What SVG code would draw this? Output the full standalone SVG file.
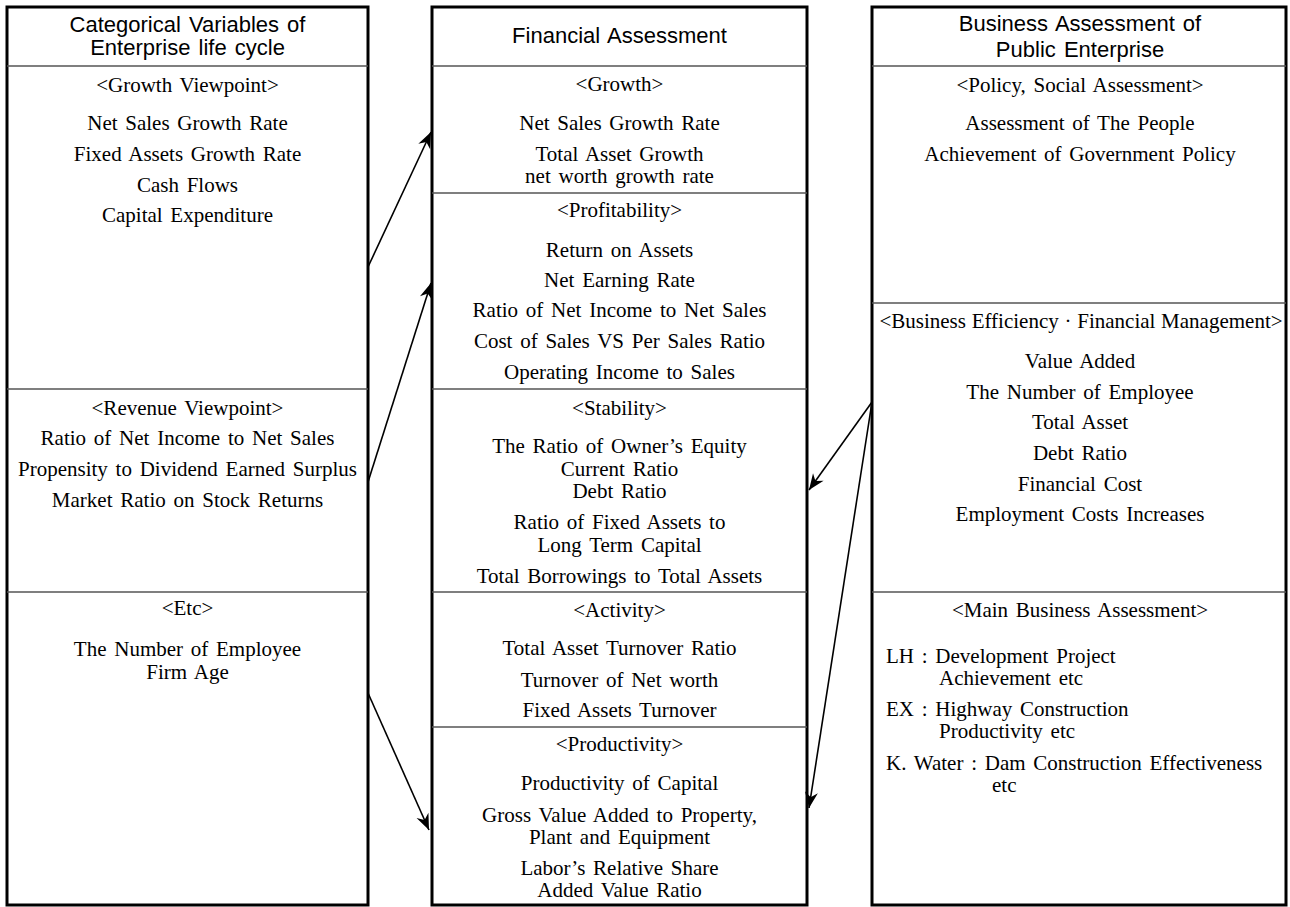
<svg xmlns="http://www.w3.org/2000/svg" width="1290" height="907" viewBox="0 0 1290 907">
<style>
.box{fill:#fff;stroke:#000;stroke-width:3}
.div{stroke:#555;stroke-width:1.5}
.hd{font-family:"Liberation Sans",Arial,sans-serif;font-size:22px;fill:#000;text-anchor:middle;word-spacing:2px}
.t{font-family:"Liberation Serif","Times New Roman",serif;font-size:21px;fill:#000;text-anchor:middle;word-spacing:2.5px}
.l{text-anchor:start}
.conn{stroke:#000;stroke-width:1.6;fill:none;marker-end:url(#arr)}
</style>
<defs>
<marker id="arr" viewBox="-17 -8 18 16" refX="0" refY="0" markerWidth="18" markerHeight="16" markerUnits="userSpaceOnUse" orient="auto">
<path d="M0,0 L-16,-6.5 L-11,0 L-16,6.5 Z" fill="#000"/>
</marker>
</defs>
<rect width="1290" height="907" fill="#fff"/>

<g id="left">
<rect class="box" x="7" y="7" width="361" height="898"/>
<line class="div" x1="7" y1="66" x2="368" y2="66"/>
<line class="div" x1="7" y1="389" x2="368" y2="389"/>
<line class="div" x1="7" y1="592" x2="368" y2="592"/>
<text class="hd" x="187.5" y="32">Categorical Variables of</text>
<text class="hd" x="187.5" y="55">Enterprise life cycle</text>
<text class="t" x="187.5" y="92">&lt;Growth Viewpoint&gt;</text>
<text class="t" x="187.5" y="130">Net Sales Growth Rate</text>
<text class="t" x="187.5" y="161">Fixed Assets Growth Rate</text>
<text class="t" x="187.5" y="192">Cash Flows</text>
<text class="t" x="187.5" y="222">Capital Expenditure</text>
<text class="t" x="187.5" y="415">&lt;Revenue Viewpoint&gt;</text>
<text class="t" x="187.5" y="445">Ratio of Net Income to Net Sales</text>
<text class="t" x="187.5" y="476">Propensity to Dividend Earned Surplus</text>
<text class="t" x="187.5" y="507">Market Ratio on Stock Returns</text>
<text class="t" x="187.5" y="615">&lt;Etc&gt;</text>
<text class="t" x="187.5" y="656">The Number of Employee</text>
<text class="t" x="187.5" y="679">Firm Age</text>
</g>

<g id="middle">
<rect class="box" x="432" y="7" width="375" height="898"/>
<line class="div" x1="432" y1="66" x2="807" y2="66"/>
<line class="div" x1="432" y1="193" x2="807" y2="193"/>
<line class="div" x1="432" y1="389" x2="807" y2="389"/>
<line class="div" x1="432" y1="592" x2="807" y2="592"/>
<line class="div" x1="432" y1="727" x2="807" y2="727"/>
<text class="hd" x="619.5" y="43">Financial Assessment</text>
<text class="t" x="619.5" y="91">&lt;Growth&gt;</text>
<text class="t" x="619.5" y="130">Net Sales Growth Rate</text>
<text class="t" x="619.5" y="161">Total Asset Growth</text>
<text class="t" x="619.5" y="183">net worth growth rate</text>
<text class="t" x="619.5" y="217">&lt;Profitability&gt;</text>
<text class="t" x="619.5" y="257">Return on Assets</text>
<text class="t" x="619.5" y="287">Net Earning Rate</text>
<text class="t" x="619.5" y="317">Ratio of Net Income to Net Sales</text>
<text class="t" x="619.5" y="348">Cost of Sales VS Per Sales Ratio</text>
<text class="t" x="619.5" y="379">Operating Income to Sales</text>
<text class="t" x="619.5" y="415">&lt;Stability&gt;</text>
<text class="t" x="619.5" y="453">The Ratio of Owner’s Equity</text>
<text class="t" x="619.5" y="476">Current Ratio</text>
<text class="t" x="619.5" y="498">Debt Ratio</text>
<text class="t" x="619.5" y="529">Ratio of Fixed Assets to</text>
<text class="t" x="619.5" y="552">Long Term Capital</text>
<text class="t" x="619.5" y="583">Total Borrowings to Total Assets</text>
<text class="t" x="619.5" y="617">&lt;Activity&gt;</text>
<text class="t" x="619.5" y="655">Total Asset Turnover Ratio</text>
<text class="t" x="619.5" y="687">Turnover of Net worth</text>
<text class="t" x="619.5" y="717">Fixed Assets Turnover</text>
<text class="t" x="619.5" y="751">&lt;Productivity&gt;</text>
<text class="t" x="619.5" y="790">Productivity of Capital</text>
<text class="t" x="619.5" y="822">Gross Value Added to Property,</text>
<text class="t" x="619.5" y="844">Plant and Equipment</text>
<text class="t" x="619.5" y="875">Labor’s Relative Share</text>
<text class="t" x="619.5" y="897">Added Value Ratio</text>
</g>

<g id="right">
<rect class="box" x="872" y="7" width="414" height="898"/>
<line class="div" x1="872" y1="66" x2="1286" y2="66"/>
<line class="div" x1="872" y1="303" x2="1286" y2="303"/>
<line class="div" x1="872" y1="592" x2="1286" y2="592"/>
<text class="hd" x="1080" y="31">Business Assessment of</text>
<text class="hd" x="1080" y="57">Public Enterprise</text>
<text class="t" x="1080" y="92">&lt;Policy, Social Assessment&gt;</text>
<text class="t" x="1080" y="130">Assessment of The People</text>
<text class="t" x="1080" y="161">Achievement of Government Policy</text>
<text class="t" x="1081" y="328" style="word-spacing:0.5px">&lt;Business Efficiency · Financial Management&gt;</text>
<text class="t" x="1080" y="368">Value Added</text>
<text class="t" x="1080" y="399">The Number of Employee</text>
<text class="t" x="1080" y="429">Total Asset</text>
<text class="t" x="1080" y="460">Debt Ratio</text>
<text class="t" x="1080" y="491">Financial Cost</text>
<text class="t" x="1080" y="521">Employment Costs Increases</text>
<text class="t" x="1080" y="617">&lt;Main Business Assessment&gt;</text>
<text class="t l" x="886" y="663">LH : Development Project</text>
<text class="t l" x="939" y="685">Achievement etc</text>
<text class="t l" x="886" y="716">EX : Highway Construction</text>
<text class="t l" x="939" y="738">Productivity etc</text>
<text class="t l" x="886" y="770">K. Water : Dam Construction Effectiveness</text>
<text class="t l" x="992" y="792">etc</text>
</g>

<g id="connectors">
<line class="conn" x1="368" y1="267" x2="431" y2="132"/>
<line class="conn" x1="368" y1="482" x2="431" y2="283"/>
<line class="conn" x1="368" y1="693" x2="429" y2="830"/>
<line class="conn" x1="872" y1="402" x2="809" y2="490"/>
<line class="conn" x1="872" y1="402" x2="809" y2="808"/>
</g>
</svg>
